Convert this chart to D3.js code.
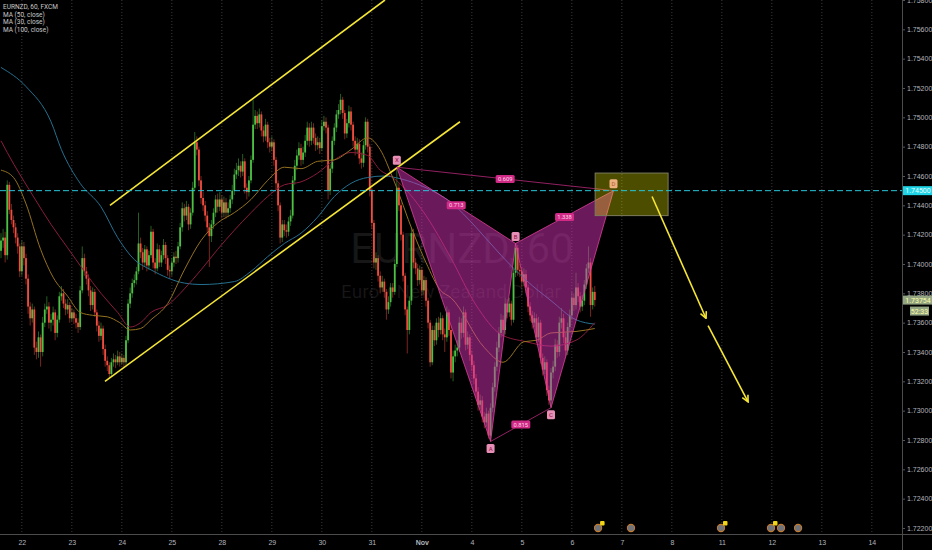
<!DOCTYPE html>
<html lang="en">
<head>
<meta charset="UTF-8"/>
<title>EURNZD, 60, FXCM</title>
<style>
  *{margin:0;padding:0}
  body{background:#000;width:932px;height:550px;overflow:hidden}
  svg{display:block;font-family:Roboto,"Liberation Sans",sans-serif}
</style>
</head>
<body>
<div id="chart"></div>
<script src="https://d3js.org/d3.v7.min.js"></script>
<script>
// hourly bars, open = previous close
const firstOpen = 1.7409;
const closes = [
  1.7416,1.7418,1.7406,1.7454,1.7437,1.7430,1.7425,1.7418,1.7412,1.7395,
  1.7412,1.7404,1.7390,1.7371,1.7363,1.7369,1.7343,1.7340,1.7350,1.7340,
  1.7360,1.7369,1.7371,1.7360,1.7362,1.7367,1.7353,1.7362,1.7378,1.7380,
  1.7373,1.7369,1.7372,1.7363,1.7367,1.7363,1.7360,1.7357,1.7382,1.7404,
  1.7395,1.7390,1.7382,1.7372,1.7381,1.7367,1.7358,1.7351,1.7356,1.7342,
  1.7334,1.7331,1.7325,1.7333,1.7335,1.7333,1.7337,1.7333,1.7336,1.7333,
  1.7348,1.7373,1.7380,1.7387,1.7389,1.7395,1.7414,1.7408,1.7401,1.7410,
  1.7399,1.7406,1.7422,1.7401,1.7397,1.7410,1.7401,1.7406,1.7413,1.7404,
  1.7396,1.7395,1.7401,1.7405,1.7404,1.7412,1.7425,1.7438,1.7433,1.7439,
  1.7427,1.7435,1.7452,1.7483,1.7478,1.7457,1.7445,1.7440,1.7433,1.7425,
  1.7419,1.7427,1.7435,1.7444,1.7439,1.7444,1.7435,1.7442,1.7435,1.7438,
  1.7444,1.7450,1.7461,1.7464,1.7467,1.7463,1.7470,1.7452,1.7449,1.7457,
  1.7471,1.7495,1.7501,1.7496,1.7502,1.7491,1.7487,1.7495,1.7483,1.7480,
  1.7483,1.7471,1.7455,1.7440,1.7418,1.7427,1.7423,1.7422,1.7429,1.7433,
  1.7457,1.7467,1.7474,1.7479,1.7471,1.7476,1.7484,1.7493,1.7484,1.7493,
  1.7486,1.7481,1.7483,1.7479,1.7494,1.7497,1.7493,1.7450,1.7465,1.7484,
  1.7493,1.7502,1.7505,1.7512,1.7503,1.7489,1.7496,1.7504,1.7495,1.7484,
  1.7478,1.7482,1.7472,1.7469,1.7481,1.7497,1.7480,1.7450,1.7428,1.7401,
  1.7404,1.7392,1.7384,1.7388,1.7381,1.7369,1.7374,1.7384,1.7381,1.7400,
  1.7452,1.7440,1.7420,1.7392,1.7369,1.7355,1.7375,1.7421,1.7401,1.7397,
  1.7389,1.7396,1.7382,1.7389,1.7375,1.7360,1.7333,1.7355,1.7348,1.7360,
  1.7355,1.7363,1.7352,1.7350,1.7367,1.7355,1.7326,1.7337,1.7341,1.7343,
  1.7360,1.7353,1.7367,1.7345,1.7350,1.7338,1.7331,1.7322,1.7313,1.7304,
  1.7307,1.7296,1.7292,1.7298,1.7283,1.7302,1.7316,1.7330,1.7343,1.7353,
  1.7362,1.7355,1.7373,1.7367,1.7373,1.7362,1.7394,1.7411,1.7396,1.7395,
  1.7388,1.7393,1.7384,1.7371,1.7365,1.7360,1.7363,1.7350,1.7360,1.7336,
  1.7328,1.7333,1.7314,1.7307,1.7326,1.7330,1.7345,1.7340,1.7360,1.7363,
  1.7350,1.7341,1.7357,1.7365,1.7377,1.7372,1.7384,1.7378,1.7371,1.7375,
  1.7386,1.7397,1.7401,1.7372,1.7381,1.73754
];
const highs = [
  1.7421,1.7424,1.7422,1.7457,1.7456,1.7441,1.7433,1.7428,1.7421,1.7414,
  1.7416,1.7415,1.7407,1.7393,1.7374,1.7373,1.7371,1.7347,1.7354,1.7352,
  1.7364,1.7373,1.7378,1.7374,1.7366,1.7371,1.7369,1.7365,1.7381,1.7385,
  1.7383,1.7376,1.7376,1.7374,1.7370,1.7369,1.7366,1.7363,1.7385,1.7412,
  1.7407,1.7398,1.7393,1.7385,1.7384,1.7383,1.7369,1.7361,1.7360,1.7358,
  1.7345,1.7337,1.7333,1.7336,1.7339,1.7338,1.7341,1.7340,1.7339,1.7338,
  1.7351,1.7376,1.7384,1.7390,1.7393,1.7398,1.7435,1.7418,1.7411,1.7413,
  1.7412,1.7409,1.7426,1.7424,1.7404,1.7414,1.7413,1.7409,1.7417,1.7415,
  1.7406,1.7399,1.7404,1.7408,1.7409,1.7415,1.7428,1.7442,1.7441,1.7443,
  1.7441,1.7438,1.7456,1.7490,1.7487,1.7480,1.7460,1.7449,1.7443,1.7436,
  1.7428,1.7430,1.7438,1.7447,1.7448,1.7449,1.7447,1.7446,1.7445,1.7442,
  1.7447,1.7454,1.7465,1.7469,1.7472,1.7470,1.7475,1.7472,1.7455,1.7460,
  1.7474,1.7512,1.7505,1.7504,1.7506,1.7504,1.7494,1.7499,1.7497,1.7486,
  1.7487,1.7485,1.7473,1.7457,1.7442,1.7430,1.7430,1.7427,1.7432,1.7437,
  1.7460,1.7471,1.7478,1.7483,1.7482,1.7480,1.7488,1.7497,1.7496,1.7497,
  1.7496,1.7489,1.7487,1.7486,1.7498,1.7501,1.7500,1.7495,1.7468,1.7487,
  1.7496,1.7505,1.7509,1.7516,1.7514,1.7505,1.7499,1.7508,1.7507,1.7497,
  1.7487,1.7486,1.7485,1.7476,1.7484,1.7500,1.7499,1.7482,1.7452,1.7430,
  1.7408,1.7406,1.7395,1.7392,1.7390,1.7383,1.7378,1.7387,1.7387,1.7403,
  1.7466,1.7455,1.7442,1.7422,1.7394,1.7371,1.7378,1.7425,1.7424,1.7404,
  1.7400,1.7399,1.7398,1.7392,1.7391,1.7377,1.7362,1.7358,1.7358,1.7363,
  1.7364,1.7367,1.7365,1.7356,1.7371,1.7369,1.7358,1.7341,1.7345,1.7348,
  1.7364,1.7363,1.7371,1.7369,1.7354,1.7352,1.7341,1.7334,1.7325,1.7316,
  1.7311,1.7310,1.7299,1.7302,1.7300,1.7305,1.7319,1.7333,1.7347,1.7357,
  1.7366,1.7365,1.7377,1.7376,1.7377,1.7375,1.7397,1.7414,1.7413,1.7400,
  1.7398,1.7397,1.7396,1.7386,1.7374,1.7368,1.7367,1.7366,1.7364,1.7362,
  1.7339,1.7337,1.7335,1.7317,1.7329,1.7334,1.7349,1.7348,1.7364,1.7370,
  1.7366,1.7353,1.7360,1.7369,1.7381,1.7380,1.7394,1.7387,1.7381,1.7379,
  1.7389,1.7400,1.7412,1.7404,1.7384,1.7385
];
const lows = [
  1.7404,1.7411,1.7401,1.7403,1.7434,1.7427,1.7421,1.7414,1.7407,1.7391,
  1.7392,1.7399,1.7386,1.7366,1.7358,1.7360,1.7338,1.7335,1.7336,1.7330,
  1.7337,1.7357,1.7366,1.7356,1.7354,1.7358,1.7348,1.7350,1.7360,1.7375,
  1.7370,1.7365,1.7366,1.7360,1.7361,1.7359,1.7356,1.7353,1.7355,1.7380,
  1.7392,1.7386,1.7378,1.7368,1.7369,1.7364,1.7354,1.7347,1.7348,1.7338,
  1.7330,1.7327,1.7322,1.7323,1.7330,1.7329,1.7331,1.7330,1.7331,1.7330,
  1.7331,1.7346,1.7370,1.7377,1.7384,1.7386,1.7393,1.7404,1.7396,1.7398,
  1.7395,1.7396,1.7404,1.7397,1.7393,1.7395,1.7398,1.7398,1.7403,1.7400,
  1.7392,1.7390,1.7392,1.7398,1.7400,1.7401,1.7410,1.7422,1.7429,1.7430,
  1.7423,1.7424,1.7433,1.7450,1.7474,1.7453,1.7441,1.7436,1.7429,1.7421,
  1.7398,1.7415,1.7424,1.7432,1.7435,1.7436,1.7431,1.7432,1.7431,1.7432,
  1.7435,1.7441,1.7447,1.7458,1.7460,1.7459,1.7460,1.7448,1.7444,1.7446,
  1.7455,1.7469,1.7492,1.7492,1.7493,1.7487,1.7483,1.7484,1.7479,1.7476,
  1.7477,1.7467,1.7451,1.7436,1.7414,1.7415,1.7419,1.7418,1.7419,1.7426,
  1.7431,1.7454,1.7464,1.7471,1.7467,1.7468,1.7473,1.7481,1.7480,1.7481,
  1.7482,1.7477,1.7478,1.7475,1.7477,1.7491,1.7489,1.7444,1.7447,1.7462,
  1.7481,1.7490,1.7499,1.7502,1.7499,1.7485,1.7486,1.7493,1.7491,1.7480,
  1.7474,1.7475,1.7468,1.7465,1.7466,1.7478,1.7476,1.7446,1.7424,1.7397,
  1.7396,1.7388,1.7380,1.7381,1.7377,1.7362,1.7366,1.7371,1.7377,1.7379,
  1.7398,1.7436,1.7416,1.7388,1.7365,1.7339,1.7352,1.7372,1.7397,1.7393,
  1.7385,1.7386,1.7378,1.7379,1.7371,1.7356,1.7330,1.7331,1.7344,1.7345,
  1.7350,1.7352,1.7348,1.7340,1.7347,1.7351,1.7322,1.7320,1.7333,1.7337,
  1.7340,1.7349,1.7350,1.7341,1.7342,1.7334,1.7327,1.7318,1.7309,1.7300,
  1.7301,1.7292,1.7288,1.7289,1.7281,1.7279,1.7299,1.7313,1.7327,1.7340,
  1.7350,1.7351,1.7352,1.7363,1.7364,1.7358,1.7360,1.7391,1.7392,1.7391,
  1.7384,1.7385,1.7380,1.7367,1.7361,1.7356,1.7357,1.7346,1.7347,1.7332,
  1.7324,1.7325,1.7310,1.7304,1.7302,1.7322,1.7327,1.7336,1.7337,1.7356,
  1.7346,1.7337,1.7338,1.7354,1.7362,1.7368,1.7369,1.7374,1.7367,1.7368,
  1.7372,1.7383,1.7394,1.7364,1.7369,1.7371
];

// moving averages: [bar, price]
const ma50 = [
  [0,1.7484],[3,1.7476],[16,1.7445],[24,1.7427],[32,1.7411],[40,1.7395],[48,1.7380],
  [56,1.7367],[62,1.7357],[67,1.7360],[72,1.7367],[80,1.7372],[88,1.7383],[96,1.7396],
  [104,1.7410],[112,1.7423],[120,1.7435],[128,1.7446],[136,1.7454],[144,1.7456],
  [152,1.7462],[160,1.7471],[168,1.7476],[176,1.7474],[182,1.7464],[188,1.7459],
  [204,1.7433],[216,1.7404],[228,1.7372],[240,1.7352],[252,1.7347],[264,1.7344],
  [276,1.7348],[285,1.7360]
];
const ma30 = [
  [0,1.7464],[6,1.7459],[12,1.7441],[19,1.7410],[25,1.7391],[32,1.7378],[38,1.7367],
  [44,1.7365],[51,1.7364],[57,1.7360],[62,1.7355],[67,1.7356],[72,1.7362],[80,1.7373],
  [88,1.7396],[96,1.7416],[104,1.7428],[112,1.7435],[120,1.7444],[128,1.7457],
  [136,1.7466],[144,1.7465],[152,1.7470],[160,1.7471],[168,1.7478],[176,1.7486],
  [182,1.7478],[188,1.7459],[198,1.7421],[204,1.7401],[211,1.7382],[216,1.7377],
  [232,1.7343],[241,1.7333],[251,1.7347],[257,1.7348],[264,1.7353],[276,1.7354],
  [285,1.7356]
];
const ma100 = [
  [0,1.7534],[12,1.7521],[24,1.7497],[29,1.7478],[38,1.7455],[48,1.7439],[56,1.7418],
  [64,1.7403],[72,1.7396],[88,1.7387],[96,1.7386],[112,1.7388],[120,1.7395],
  [128,1.7405],[136,1.7414],[144,1.7421],[152,1.7432],[160,1.7446],[168,1.7455],
  [176,1.7459],[184,1.7460],[192,1.7458],[204,1.7452],[216,1.7442],[228,1.7425],
  [240,1.7406],[252,1.7389],[264,1.7375],[276,1.7362],[285,1.7359]
];

const dayTicks  = [10,34,58,82,106,130,154,178,202,226,250,274,298,322,346,370,394,418];
const dayLabels = ['22','23','24','25','28','29','30','31','Nov','4','5','6','7','8','11','12','13','14'];
const priceTicks = [1.722,1.724,1.726,1.728,1.730,1.732,1.734,1.736,1.738,1.740,
                    1.742,1.744,1.746,1.748,1.750,1.752,1.754,1.756,1.758];

// harmonic pattern X A B C D
const patternNames = ['X','A','B','C','D'];
const patternBars  = [190,235,247,264,294];
const patternPrice = [1.7466,1.7279,1.7414,1.7302,1.7450];
const ratioLinks   = [[0,4,'0.609'],[0,2,'0.713'],[1,3,'0.815'],[2,4,'1.338']];

const channelUpper = [[52.3,1.7440],[184.3,1.7580]];
const channelLower = [[49.9,1.7320],[220.3,1.7497]];
const arrowLegs = [[[312.5,1.7446],[338.4,1.7363]],[[339.4,1.7358],[358.6,1.7306]]];
const boxBars  = [285.2,320.2];
const boxPrice = [1.7462,1.7433];
const levelPrice = 1.745;
const lastPrice = 1.73754;
const countdown = '52:33';
const eventBars  = [286.6,302.4,345.6,369.6,374.4,382.6];
const eventBadge = [true,false,true,true,false,false];
const legendLines = ['EURNZD, 60, FXCM','MA (50, close)','MA (30, close)','MA (100, close)'];

const W = 932, H = 550, plotW = 902, plotH = 534;
const up = '#4cc244', down = '#f24d3f';

const svg = d3.select('#chart').append('svg').attr('width', W).attr('height', H);
svg.append('rect').attr('width', W).attr('height', H).attr('fill', '#000');

const x = d3.scaleLinear().domain([0, 432]).range([1, 901]);
const y = d3.scaleLinear().domain([1.722, 1.740]).range([528, 264]);

svg.append('clipPath').attr('id', 'plot')
  .append('rect').attr('width', plotW).attr('height', plotH);
const plot = svg.append('g').attr('clip-path', 'url(#plot)');

// day grid
plot.selectAll('line.grid').data(dayTicks).join('line')
  .attr('x1', d => x(d)).attr('x2', d => x(d))
  .attr('y1', 0).attr('y2', plotH)
  .attr('stroke', '#3a3a3a').attr('stroke-dasharray', '1,2');

// watermark
plot.append('text').attr('x', 462).attr('y', 263).attr('text-anchor', 'middle')
  .attr('font-size', 42).attr('fill', '#fff').attr('fill-opacity', 0.09)
  .text('EURNZD, 60');
plot.append('text').attr('x', 451).attr('y', 298).attr('text-anchor', 'middle')
  .attr('font-size', 19).attr('fill', '#fff').attr('fill-opacity', 0.09)
  .text('Euro / New Zealand Dollar');

// candles
const bars = closes.map((c, i) => ({ i, o: i ? closes[i - 1] : firstOpen, h: highs[i], l: lows[i], c }));
const cg = plot.append('g');
cg.selectAll('line').data(bars).join('line')
  .attr('x1', d => x(d.i)).attr('x2', d => x(d.i))
  .attr('y1', d => y(d.h)).attr('y2', d => y(d.l))
  .attr('stroke', d => d.c >= d.o ? up : down)
  .attr('stroke-opacity', 0.7).attr('stroke-width', 0.7);
cg.selectAll('rect').data(bars).join('rect')
  .attr('x', d => x(d.i) - 0.9).attr('width', 1.8)
  .attr('y', d => y(Math.max(d.o, d.c)))
  .attr('height', d => Math.max(0.8, Math.abs(y(d.o) - y(d.c))))
  .attr('fill', d => d.c >= d.o ? up : down);

// moving averages
const maLine = d3.line().x(d => x(d[0])).y(d => y(d[1])).curve(d3.curveMonotoneX);
[[ma100, '#24708f'], [ma50, '#8a1c3c'], [ma30, '#957220']].forEach(([s, col]) => {
  plot.append('path').attr('d', maLine(s)).attr('fill', 'none')
    .attr('stroke', col).attr('stroke-width', 1);
});

// channel
const seg = d3.line().x(d => x(d[0])).y(d => y(d[1]));
[channelUpper, channelLower].forEach(s => {
  plot.append('path').attr('d', seg(s)).attr('stroke', '#f5e636').attr('stroke-width', 1.6);
});

// pattern
const pts = patternBars.map((b, k) => [x(b), y(patternPrice[k])]);
[[0, 1, 2], [2, 3, 4]].forEach(t => {
  plot.append('polygon').attr('points', t.map(k => pts[k].join(',')).join(' '))
    .attr('fill', '#d434b4').attr('fill-opacity', 0.5)
    .attr('stroke', '#e0409a').attr('stroke-width', 0.8);
});
[[0, 4], [1, 3]].forEach(([a, b]) => {
  plot.append('line').attr('x1', pts[a][0]).attr('y1', pts[a][1])
    .attr('x2', pts[b][0]).attr('y2', pts[b][1])
    .attr('stroke', '#b8287a').attr('stroke-width', 0.8);
});
ratioLinks.forEach(([a, b, t]) => {
  const mx = (pts[a][0] + pts[b][0]) / 2, my = (pts[a][1] + pts[b][1]) / 2;
  const g = plot.append('g').attr('transform', `translate(${mx},${my})`);
  g.append('rect').attr('x', -9.5).attr('y', -4).attr('width', 19).attr('height', 8)
    .attr('rx', 1.5).attr('fill', '#d02a86');
  g.append('text').attr('text-anchor', 'middle').attr('dy', '0.35em')
    .attr('font-size', 5.8).attr('fill', '#fbd3e6').text(t);
});
patternNames.forEach((n, k) => {
  const below = k === 1 || k === 3;
  const g = plot.append('g').attr('transform', `translate(${pts[k][0]},${pts[k][1] + (below ? 7 : -7)})`);
  g.append('rect').attr('x', -4).attr('y', -4.5).attr('width', 8).attr('height', 9)
    .attr('rx', 1.5).attr('fill', '#e78fb6');
  g.append('text').attr('text-anchor', 'middle').attr('dy', '0.35em')
    .attr('font-size', 6).attr('fill', '#8a1040').text(n);
});

// target zone
plot.append('rect')
  .attr('x', x(boxBars[0])).attr('width', x(boxBars[1]) - x(boxBars[0]))
  .attr('y', y(boxPrice[0])).attr('height', y(boxPrice[1]) - y(boxPrice[0]))
  .attr('fill', '#ffff00').attr('fill-opacity', 0.3)
  .attr('stroke', '#7c7c5c').attr('stroke-width', 1);

// projected move
svg.append('defs').append('marker').attr('id', 'head')
  .attr('viewBox', '0 0 10 10').attr('refX', 9).attr('refY', 5)
  .attr('markerWidth', 5).attr('markerHeight', 5).attr('orient', 'auto')
  .append('path').attr('d', 'M1,1 L9,5 L1,9').attr('fill', 'none')
  .attr('stroke', '#f5e636').attr('stroke-width', 2);
arrowLegs.forEach(s => {
  plot.append('path').attr('d', seg(s)).attr('stroke', '#f5e636')
    .attr('stroke-width', 1.6).attr('marker-end', 'url(#head)');
});

// level line
plot.append('line').attr('x1', 0).attr('x2', plotW)
  .attr('y1', y(levelPrice)).attr('y2', y(levelPrice))
  .attr('stroke', '#26c6da').attr('stroke-width', 1).attr('stroke-dasharray', '6,3');

// events
const ev = plot.selectAll('g.ev').data(eventBars).join('g')
  .attr('transform', d => `translate(${x(d)},528)`);
ev.append('circle').attr('r', 3.6).attr('fill', '#6f737c')
  .attr('stroke', '#c47a2c').attr('stroke-width', 1.1);
ev.filter((d, k) => eventBadge[k]).append('rect')
  .attr('x', 2).attr('y', -7).attr('width', 4.5).attr('height', 4.5).attr('rx', 1)
  .attr('fill', '#f2d516');

// axes
const xAxis = d3.axisBottom(x).tickValues(dayTicks)
  .tickFormat((d, k) => dayLabels[k]).tickSize(0).tickPadding(6);
const xa = svg.append('g').attr('transform', `translate(0,${plotH})`).call(xAxis);
xa.select('.domain').remove();
xa.selectAll('text').attr('fill', '#b2b5be').style('font-size', '7px')
  .style('font-weight', (d, k) => dayLabels[k] === 'Nov' ? 700 : 400);

const yAxis = d3.axisRight(y).tickValues(priceTicks)
  .tickFormat(d3.format('.5f')).tickSize(3).tickPadding(2);
const ya = svg.append('g').attr('transform', `translate(${plotW},0)`).call(yAxis);
ya.select('.domain').remove();
ya.selectAll('line').attr('stroke', '#555');
ya.selectAll('text').attr('fill', '#b2b5be').style('font-size', '7px');

svg.append('line').attr('x1', 0).attr('x2', W).attr('y1', plotH + 0.5).attr('y2', plotH + 0.5)
  .attr('stroke', '#4c4c4c');
svg.append('line').attr('x1', plotW + 0.5).attr('x2', plotW + 0.5).attr('y1', 0).attr('y2', H)
  .attr('stroke', '#4c4c4c');

// price tags on the axis
function tag(yy, txt, bg, fg, x0, w) {
  svg.append('rect').attr('x', x0).attr('y', yy - 4.5).attr('width', w).attr('height', 9).attr('fill', bg);
  svg.append('text').attr('x', x0 + w / 2).attr('y', yy).attr('dy', '0.35em')
    .attr('text-anchor', 'middle').attr('font-size', 7).attr('fill', fg).text(txt);
}
tag(y(levelPrice), d3.format('.5f')(levelPrice), '#1fd4e6', '#e8ffff', plotW + 1, 30);
tag(y(lastPrice), d3.format('.5f')(lastPrice), '#93a482', '#ffffa8', plotW + 1, 30);
tag(y(lastPrice) + 11, countdown, '#93a482', '#ffffa8', 910, 19);

// legend
svg.append('g').selectAll('text').data(legendLines).join('text')
  .attr('x', 3).attr('y', (d, k) => 9 + k * 7.7)
  .attr('font-size', 6.5).attr('fill', '#c8c8c8').text(d => d);
</script>
</body>
</html>
